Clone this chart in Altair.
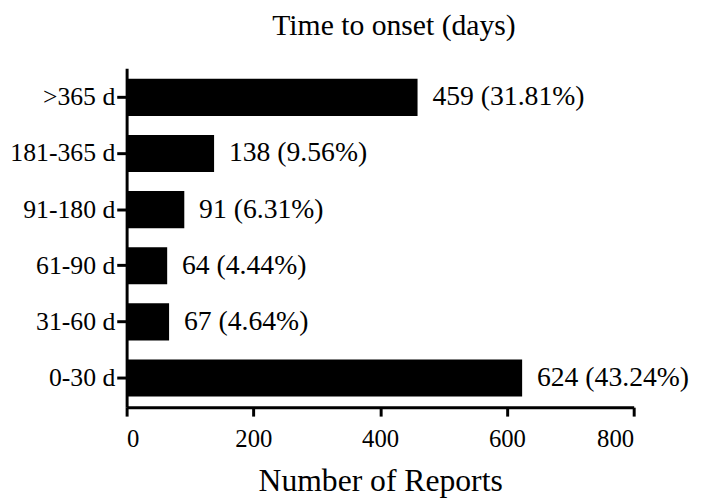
import altair as alt
import pandas as pd

categories = [">365 d", "181-365 d", "91-180 d", "61-90 d", "31-60 d", "0-30 d"]
counts = [459, 138, 91, 64, 67, 624]
percents = ["31.81%", "9.56%", "6.31%", "4.44%", "4.64%", "43.24%"]
x_ticks = [0, 200, 400, 600, 800]

df = pd.DataFrame({"cat": categories, "n": counts, "pct": percents})
df["label"] = df["n"].astype(str) + " (" + df["pct"] + ")"

FONT = "Liberation Serif"

y = alt.Y(
    "cat:N",
    sort=categories,
    scale=alt.Scale(paddingInner=0.34, paddingOuter=0.19),
    axis=alt.Axis(
        title=None, labelFontSize=26, labelFont=FONT, labelColor="black",
        tickSize=10, tickWidth=3, tickColor="black",
        domainWidth=3, domainColor="black", labelPadding=2, labelLimit=0,
    ),
)
x = alt.X(
    "n:Q",
    scale=alt.Scale(domain=[0, 800], nice=False),
    axis=alt.Axis(
        values=x_ticks, title="Number of Reports", titleFontSize=32,
        titleFont=FONT, titleFontWeight="normal", titleColor="black",
        labelFontSize=25, labelFont=FONT, labelColor="black",
        tickSize=9, tickWidth=3, tickColor="black",
        domainWidth=3, domainColor="black", labelPadding=11,
        titlePadding=14, grid=False,
    ),
)

base = alt.Chart(df).encode(x=x, y=y)
bars = base.mark_bar(color="black")
text = base.mark_text(
    align="left", baseline="middle", dx=15, fontSize=28, font=FONT, color="black"
).encode(text="label:N")

chart = (
    alt.layer(bars, text)
    .properties(
        width=513,
        height=343,
        title=alt.TitleParams(
            "Time to onset (days)", fontSize=30, font=FONT,
            fontWeight="normal", color="black", dx=14, offset=28, anchor="middle",
        ),
        autosize=alt.AutoSizeParams(type="none"),
        padding={"left": 120, "top": 58, "right": 60, "bottom": 90},
    )
    .configure(background="white", font=FONT)
    .configure_view(stroke=None)
)

chart.save("out.html", embed_options={"renderer": "svg", "actions": False})
